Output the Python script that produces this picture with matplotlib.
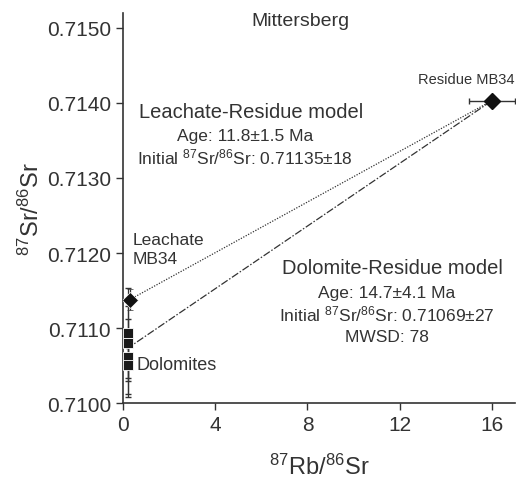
import numpy as np
from matplotlib import pyplot as plt

plt.rcParams['font.family'] = ['Liberation Sans', 'DejaVu Sans']
plt.rcParams['mathtext.fontset'] = 'custom'
plt.rcParams['mathtext.rm'] = 'Liberation Sans'
plt.rcParams['mathtext.it'] = 'Liberation Sans:italic'

# data
residue_x = [16.0]
residue_y = [0.71403]
residue_xerr = [1.0]

leachate_x = [0.3]
leachate_y = [0.71138]
leachate_yerr = [0.00014]

dolomite_x = [0.2, 0.2, 0.2, 0.2]
dolomite_y = [0.71093, 0.71080, 0.71062, 0.71051]
dolomite_yerr = [0.0006, 0.0005, 0.0005, 0.00043]

# isochron models
lr_x = [0.3, 16.0]
lr_y = [0.71138, 0.71403]
dr_x = [0.15, 16.0]
dr_y = [0.71072, 0.71403]

ink = '#333333'

fig = plt.figure(figsize=(5.17, 4.81), dpi=100)
ax = fig.add_axes([0.238, 0.160, 0.758, 0.811])

ax.plot(lr_x, lr_y, linestyle=(0, (1.0, 1.2)), color=ink, linewidth=0.9, zorder=2)
ax.plot(dr_x, dr_y, linestyle=(0, (6, 1.5, 1.2, 1.5)), color=ink, linewidth=0.9, zorder=2)

ax.errorbar(dolomite_x, dolomite_y, yerr=dolomite_yerr, fmt='none',
            ecolor=ink, elinewidth=0.9, capsize=2.5, zorder=3)
ax.plot(dolomite_x, dolomite_y, 's', color='#1a1a1a', markersize=7.5,
        markeredgecolor='white', markeredgewidth=0.6, zorder=3)
ax.errorbar(leachate_x, leachate_y, yerr=leachate_yerr, fmt='D', color='#111111',
            markersize=8, markeredgecolor='white', markeredgewidth=0.5,
            ecolor=ink, elinewidth=0.9, capsize=2.5, zorder=4)
ax.errorbar(residue_x, residue_y, xerr=residue_xerr, fmt='D', color='#111111',
            markersize=8, ecolor=ink, elinewidth=1.0, capsize=2.5, zorder=4)

ax.set_xlim(0, 17)
ax.set_ylim(0.7100, 0.7152)
ax.set_xticks([0, 4, 8, 12, 16])
ax.set_yticks([0.7100, 0.7110, 0.7120, 0.7130, 0.7140, 0.7150])
ax.set_yticklabels(['%.4f' % v for v in ax.get_yticks()])
ax.tick_params(direction='out', length=5, width=1.0, colors=ink, labelsize=15, labelcolor=ink)
for s in ['top', 'right']:
    ax.spines[s].set_visible(False)
for s in ['left', 'bottom']:
    ax.spines[s].set_color(ink)
    ax.spines[s].set_linewidth(1.2)

ax.set_xlabel(r'$^{87}$Rb/$^{86}$Sr', fontsize=17, color=ink, labelpad=14)
ax.set_ylabel(r'$^{87}$Sr/$^{86}$Sr', fontsize=17, color=ink, labelpad=2)

ax.text(7.7, 0.71510, 'Mittersberg', ha='center', va='center', fontsize=14, color=ink)
ax.text(14.9, 0.71432, 'Residue MB34', ha='center', va='center', fontsize=10.5, color=ink)
ax.text(5.57, 0.71389, 'Leachate-Residue model', ha='center', va='center', fontsize=14.5, color=ink)
ax.text(5.3, 0.71356, 'Age: 11.8\u00b11.5 Ma', ha='center', va='center', fontsize=12.5, color=ink)
ax.text(5.3, 0.71329, r'Initial $^{87}$Sr/$^{86}$Sr: 0.71135$\pm$18', ha='center', va='center',
        fontsize=12.5, color=ink)
ax.text(0.43, 0.71205, 'Leachate\nMB34', ha='left', va='center', fontsize=12.5, color=ink,
        linespacing=1.35)
ax.text(11.67, 0.71181, 'Dolomite-Residue model', ha='center', va='center', fontsize=14.5, color=ink)
ax.text(11.45, 0.71148, 'Age: 14.7\u00b14.1 Ma', ha='center', va='center', fontsize=12.5, color=ink)
ax.text(11.45, 0.71119, r'Initial $^{87}$Sr/$^{86}$Sr: 0.71069$\pm$27', ha='center', va='center',
        fontsize=12.5, color=ink)
ax.text(11.45, 0.71089, 'MWSD: 78', ha='center', va='center', fontsize=12.5, color=ink)
ax.text(0.6, 0.71052, 'Dolomites', ha='left', va='center', fontsize=13, color=ink)

plt.savefig('out.png', dpi=100)
